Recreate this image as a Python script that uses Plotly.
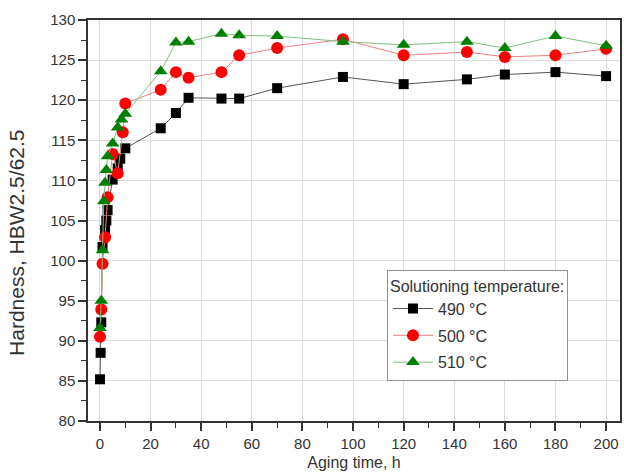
import plotly.graph_objects as go

t490 = [0, 0.25, 0.5, 1, 2, 2.5, 3, 5, 7, 8, 10, 24, 30, 35, 48, 55, 70, 96, 120, 145, 160, 180, 200]
h490 = [85.2, 88.5, 92.3, 101.7, 103.8, 105.0, 106.3, 110.1, 111.5, 112.7, 114.0, 116.5, 118.4, 120.3, 120.2, 120.2, 121.5, 122.9, 122.0, 122.6, 123.2, 123.5, 123.0]

t500 = [0, 0.5, 1, 2, 3, 5, 7, 9, 10, 24, 30, 35, 48, 55, 70, 96, 120, 145, 160, 180, 200]
h500 = [90.5, 93.9, 99.6, 102.9, 107.9, 113.3, 110.9, 116.0, 119.6, 121.3, 123.5, 122.8, 123.5, 125.6, 126.5, 127.6, 125.6, 126.0, 125.4, 125.6, 126.4]

t510 = [0, 0.5, 1, 1.5, 2, 2.5, 3, 5, 7, 8.5, 10, 24, 30, 35, 48, 55, 70, 96, 120, 145, 160, 180, 200]
h510 = [91.6, 95.0, 101.3, 107.4, 109.7, 111.3, 113.0, 114.6, 116.6, 117.6, 118.3, 123.6, 127.2, 127.3, 128.3, 128.1, 128.0, 127.3, 126.9, 127.3, 126.5, 128.0, 126.8]

series = [
    ("490 °C", t490, h490, "square", "#000000", "#555555", 10),
    ("500 °C", t500, h500, "circle", "#ff0000", "#f08080", 12),
    ("510 °C", t510, h510, "triangle-up", "#008000", "#80c080", 12),
]

fig = go.Figure()
for i, (name, t, h, sym, mc, lc, sz) in enumerate(series):
    fig.add_trace(go.Scatter(
        x=t, y=h, name=name, mode="lines+markers", legendgroup=f"g{i}",
        line=dict(color=lc, width=1),
        marker=dict(symbol=sym, color=mc, size=sz, line=dict(width=0)),
    ))

font = dict(family="Liberation Sans, Arial, sans-serif", size=15, color="#333333")

fig.update_layout(
    width=624, height=472,
    margin=dict(l=88, r=4, t=20, b=51),
    paper_bgcolor="white", plot_bgcolor="white",
    font=font,
    showlegend=True,
    legend=dict(
        title=dict(text="Solutioning temperature:", font=dict(size=16)),
        x=0.562, y=0.377, xanchor="left", yanchor="top",
        bgcolor="white", bordercolor="#909090", borderwidth=1,
        font=dict(size=16), tracegroupgap=3, itemwidth=40,
    ),
    xaxis=dict(
        range=[-4.74, 205.5], tickmode="array",
        tickvals=[0, 20, 40, 60, 80, 100, 120, 140, 160, 180, 200],
        showgrid=True, gridcolor="#dcdcdc", gridwidth=1,
        showline=True, linecolor="#333333", linewidth=1.5, mirror=True,
        ticks="outside", ticklen=8, tickwidth=1.5, tickcolor="#333333",
        minor=dict(dtick=10, tick0=0, ticks="outside", ticklen=5, tickwidth=1.2,
                   tickcolor="#333333", showgrid=False),
        zeroline=False, automargin=False,
        title=dict(text="Aging time, h", font=dict(size=16), standoff=6),
    ),
    yaxis=dict(
        range=[80, 130], tickmode="array",
        tickvals=[80, 85, 90, 95, 100, 105, 110, 115, 120, 125, 130],
        showgrid=True, gridcolor="#dcdcdc", gridwidth=1,
        showline=True, linecolor="#333333", linewidth=1.5, mirror=True,
        ticks="outside", ticklen=8, tickwidth=1.5, tickcolor="#333333",
        minor=dict(dtick=2.5, tick0=80, ticks="outside", ticklen=5, tickwidth=1.2,
                   tickcolor="#333333", showgrid=False),
        zeroline=False, automargin=False,
    ),
    annotations=[dict(
        text="Hardness, HBW2.5/62.5", textangle=-90, showarrow=False,
        xref="paper", yref="paper", x=-0.1335, y=0.444,
        xanchor="center", yanchor="middle",
        font=dict(size=21, color="#333333"),
    )],
)

fig.write_html("out.html")
